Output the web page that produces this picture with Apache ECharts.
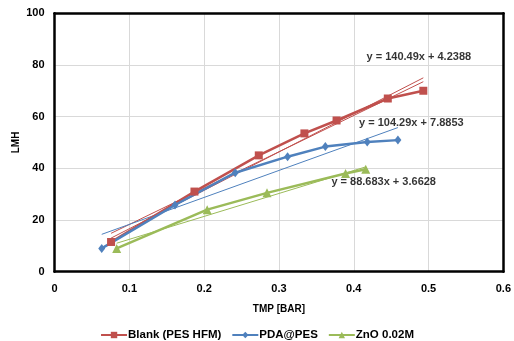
<!DOCTYPE html>
<html><head><meta charset="utf-8">
<script src="https://cdn.jsdelivr.net/npm/echarts@6/dist/echarts.min.js"></script>
<style>html,body{margin:0;padding:0;background:#fff}#c{width:514px;height:341px}</style>
</head><body><div id="c"></div>
<script>
var blankX = [0.0755, 0.187, 0.273, 0.334, 0.377, 0.4455, 0.493];
var blankY = [11.5, 31, 45, 53.5, 58.5, 67, 70];
var pdaX = [0.063, 0.161, 0.2415, 0.3115, 0.362, 0.418, 0.459];
var pdaY = [9.0, 25.8, 38.3, 44.5, 48.4, 50.2, 50.9];
var znoX = [0.083, 0.204, 0.284, 0.389, 0.416];
var znoY = [9, 24, 30.5, 38, 39.6];
var trendCoef = { blank: [140.49, 4.2388], pda: [104.29, 7.8853], zno: [88.683, 3.6628] };
var blankTrend2 = [[0.0755, 13.0], [0.493, 75.0]];
var eqLabels = [
  [0.487, 83, 'y = 140.49x + 4.2388'],
  [0.477, 57.5, 'y = 104.29x + 7.8853'],
  [0.44, 34.7, 'y = 88.683x + 3.6628']
];
var xTicks = [0, 0.1, 0.2, 0.3, 0.4, 0.5, 0.6];
var yTicks = [0, 20, 40, 60, 80, 100];

function pairs(xs, ys){ return xs.map(function(x,i){return [x, ys[i]];}); }
function trend(xs, c){ var a=Math.min.apply(null,xs), b=Math.max.apply(null,xs); return [[a, c[0]*a+c[1]], [b, c[0]*b+c[1]]]; }

var red='#C0504D', blue='#4F81BD', green='#9BBB59';
var font='Liberation Sans';
var chart = echarts.init(document.getElementById('c'), null, {renderer:'canvas'});
function tl(data, color){ return {type:'line', data:data, symbol:'none', silent:true, lineStyle:{color:color, width:1}, z:1}; }
var frameLine = {show:true, onZero:false, lineStyle:{color:'#000', width:2.5}};
chart.setOption({
  animation:false,
  textStyle:{fontFamily:font},
  grid:{left:54.6, right:10, top:13.2, bottom:69.3, containLabel:false},
  xAxis:[{type:'value', min:0, max:0.6, interval:0.1,
    name:'TMP [BAR]', nameLocation:'middle', nameGap:33, nameMoveOverlap:false,
    nameTextStyle:{fontFamily:font, fontWeight:'bold', fontSize:10, color:'#000'},
    axisLine:frameLine, axisTick:{show:false},
    axisLabel:{margin:12, fontFamily:font, fontWeight:'bold', fontSize:11, color:'#000',
      formatter:function(v){ var t=xTicks.filter(function(k){return Math.abs(k-v)<1e-9;}); return t.length? String(t[0]) : ''; }},
    splitLine:{show:true, lineStyle:{color:'#d9d9d9', width:1}}},
    {type:'value', position:'top', min:0, max:0.6, axisLine:frameLine, axisTick:{show:false}, axisLabel:{show:false}, splitLine:{show:false}}],
  yAxis:[{type:'value', min:0, max:100, interval:20,
    name:'LMH', nameLocation:'middle', nameGap:33, nameMoveOverlap:false,
    nameTextStyle:{fontFamily:font, fontWeight:'bold', fontSize:10, color:'#000'},
    axisLine:frameLine, axisTick:{show:false},
    axisLabel:{margin:10, fontFamily:font, fontWeight:'bold', fontSize:11, color:'#000',
      formatter:function(v){ return yTicks.indexOf(v)>=0 ? String(v) : ''; }},
    splitLine:{show:true, lineStyle:{color:'#d9d9d9', width:1}}},
    {type:'value', position:'right', min:0, max:100, axisLine:frameLine, axisTick:{show:false}, axisLabel:{show:false}, splitLine:{show:false}}],
  legend:{top:324, left:'center', itemGap:10, itemWidth:26, itemHeight:8,
    data:['Blank (PES HFM)','PDA@PES','ZnO 0.02M'],
    textStyle:{fontFamily:font, fontWeight:'bold', fontSize:11.5, color:'#000', padding:[0,0,0,-4]}},
  series:[
    tl(trend(blankX, trendCoef.blank), red),
    tl(blankTrend2, red),
    tl(trend(pdaX, trendCoef.pda), blue),
    tl(trend(znoX, trendCoef.zno), green),
    {name:'Blank (PES HFM)', type:'line', data:pairs(blankX, blankY), symbol:'rect', symbolSize:8,
      itemStyle:{color:red}, lineStyle:{color:red, width:2.5}, z:3},
    {name:'PDA@PES', type:'line', data:pairs(pdaX, pdaY), symbol:'diamond', symbolSize:[7,9],
      itemStyle:{color:blue}, lineStyle:{color:blue, width:2.5}, z:3},
    {name:'ZnO 0.02M', type:'line', data:pairs(znoX, znoY), symbol:'triangle', symbolSize:9,
      itemStyle:{color:green}, lineStyle:{color:green, width:2.5}, z:3},
    {type:'scatter', data:eqLabels, symbolSize:0, silent:true, z:5,
      label:{show:true, position:'inside', formatter:function(p){return p.data[2];},
        fontFamily:font, fontWeight:'bold', fontSize:11, color:'#000'}}
  ]
});
</script></body></html>
